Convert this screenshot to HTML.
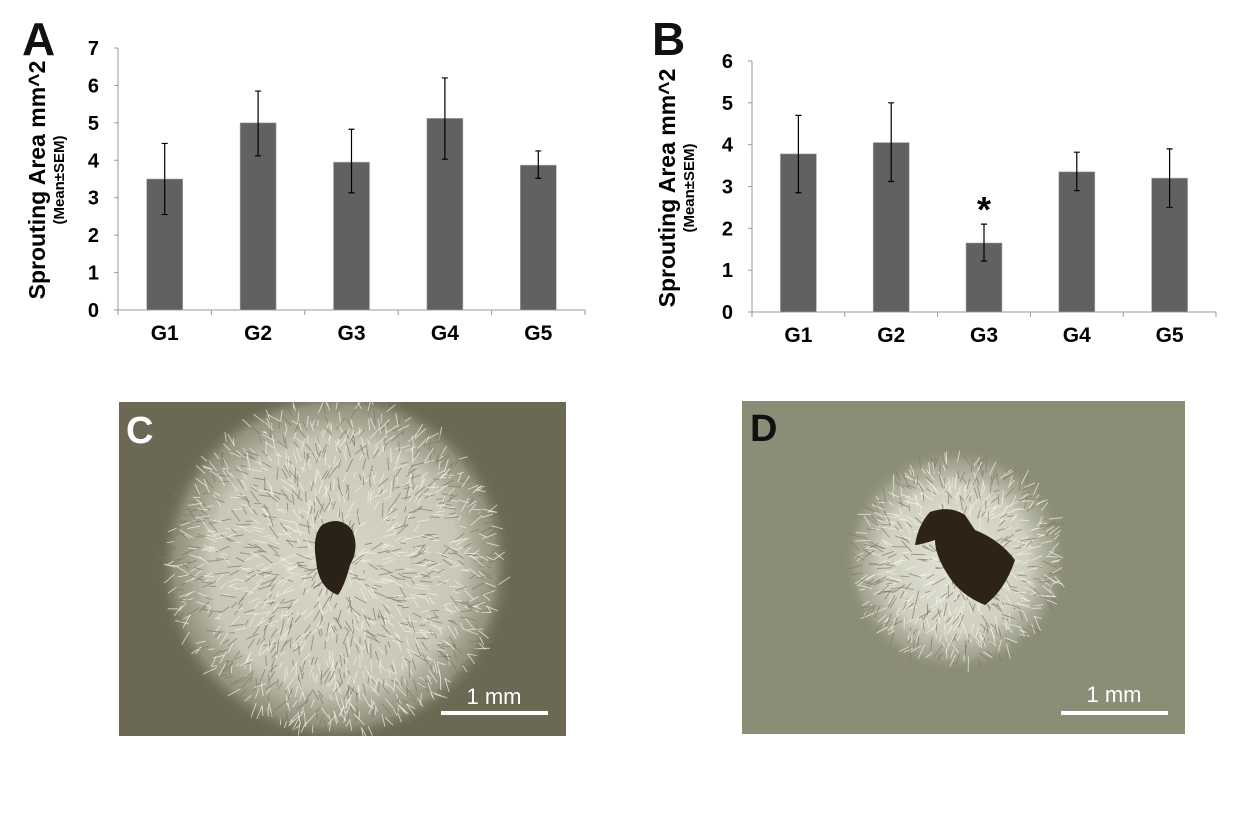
<!DOCTYPE html>
<html><head><meta charset="utf-8"><style>
body{margin:0;background:#fff;width:1240px;height:827px;overflow:hidden;font-family:"Liberation Sans",Arial,sans-serif}
svg{display:block}
</style></head><body>
<svg id="fig" width="1240" height="827" viewBox="0 0 1240 827">
<defs>
<radialGradient id="haloC" cx="50%" cy="50%" r="50%"><stop offset="0" stop-color="#d9d7c8"/><stop offset="0.7" stop-color="#c9c7b6"/><stop offset="0.9" stop-color="#a5a38f" stop-opacity="0.7"/><stop offset="1" stop-color="#6e6a55" stop-opacity="0"/></radialGradient>
<radialGradient id="haloD" cx="50%" cy="50%" r="50%"><stop offset="0" stop-color="#e2e2d6"/><stop offset="0.65" stop-color="#d0d0c0"/><stop offset="0.88" stop-color="#b0b19d" stop-opacity="0.6"/><stop offset="1" stop-color="#8f907b" stop-opacity="0"/></radialGradient>
<clipPath id="clipC"><rect x="119" y="402" width="447" height="334"/></clipPath>
<clipPath id="clipD"><rect x="742" y="401" width="443" height="333"/></clipPath>
</defs>
<g id="chartA"></g>
<g id="chartB"></g>
<g clip-path="url(#clipC)">
<rect x="119" y="402" width="447" height="334" fill="#6b6853"/>
<ellipse cx="335" cy="565" rx="178" ry="178" fill="url(#haloC)"/>
<g id="fibC"></g>
<path d="M322 525 Q340 515 352 530 Q360 548 350 565 Q345 585 338 595 Q318 588 316 560 Q312 535 322 525Z" fill="#2a2216"/>
</g>
<text x="126" y="443" font-size="38" font-weight="bold" fill="#fff">C</text>
<rect x="441" y="711" width="107" height="4" fill="#fff"/>
<text x="494" y="704" text-anchor="middle" font-size="22" fill="#fff">1 mm</text>
<g clip-path="url(#clipD)">
<rect x="742" y="401" width="443" height="333" fill="#8b8d77"/>
<ellipse cx="955" cy="560" rx="112" ry="112" fill="url(#haloD)"/>
<g id="fibD"></g>
<path d="M930 512 Q950 505 965 515 L975 530 Q1000 540 1015 560 Q1005 590 985 605 Q960 595 948 575 Q935 555 935 540 Q920 545 915 545 Q918 525 930 512Z" fill="#2d2416"/>
</g>
<text x="750" y="441" font-size="38" font-weight="bold" fill="#111">D</text>
<rect x="1061" y="711" width="107" height="4" fill="#fff"/>
<text x="1114" y="702" text-anchor="middle" font-size="22" fill="#fff">1 mm</text>
</svg>
<script>
const categories=["G1","G2","G3","G4","G5"];
const meansA=[3.5,5.0,3.95,5.12,3.87];
const errLoA=[2.55,4.12,3.13,4.03,3.52];
const errHiA=[4.45,5.85,4.83,6.2,4.25];
const ticksA=[0,1,2,3,4,5,6,7];
const meansB=[3.78,4.05,1.65,3.35,3.2];
const errLoB=[2.85,3.12,1.22,2.9,2.5];
const errHiB=[4.7,5.0,2.1,3.82,3.9];
const ticksB=[0,1,2,3,4,5,6];
const NS="http://www.w3.org/2000/svg";
function mk(p,t,a){const e=document.createElementNS(NS,t);for(const k in a)e.setAttribute(k,a[k]);p.appendChild(e);return e;}
function chart(g,o){
  const y=v=>o.y0-(v/o.max)*(o.y0-o.yTop);
  const bw=(o.x1-o.x0)/categories.length;
  const x=i=>o.x0+bw*(i+0.5);
  let l=mk(g,'line',{x1:o.x0,y1:o.yTop,x2:o.x0,y2:o.y0,stroke:'#999','stroke-width':1});
  
  
  l=mk(g,'line',{x1:o.x0,y1:o.y0,x2:o.x1,y2:o.y0,stroke:'#999','stroke-width':1});
  
  
  o.ticks.forEach(v=>{
    mk(g,'line',{x1:o.x0-4,y1:y(v),x2:o.x0,y2:y(v),stroke:'#999'});
    const t=mk(g,'text',{x:o.x0-19,y:y(v)+7,'text-anchor':'end','font-size':20,'font-weight':'bold',fill:'#000'});
    t.textContent=v;
    
    
  });
  for(let i=0;i<=categories.length;i++)mk(g,'line',{x1:o.x0+bw*i,y1:o.y0,x2:o.x0+bw*i,y2:o.y0+5,stroke:'#999'});
  categories.forEach((c,i)=>{
    const r=mk(g,'rect',{x:x(i)-18,y:y(o.m[i]),width:36,height:o.y0-y(o.m[i]),fill:'#616161',stroke:'#aaa','stroke-width':0.6});
    
    
    const e=mk(g,'path',{d:`M${x(i)} ${y(o.lo[i])}V${y(o.hi[i])}M${x(i)-3} ${y(o.lo[i])}h6M${x(i)-3} ${y(o.hi[i])}h6`,stroke:'#000','stroke-width':1.2,fill:'none'});
    
    
    const t=mk(g,'text',{x:x(i),y:o.y0+30,'text-anchor':'middle','font-size':21,'font-weight':'bold',fill:'#000'});
    t.textContent=c;
    
    
  });
  let t=mk(g,'text',{x:o.lx,y:o.ly,'font-size':46,'font-weight':'bold',fill:'#111'});t.textContent=o.letter;
  
  
  t=mk(g,'text',{transform:`translate(${o.tx},${o.tc}) rotate(-90)`,'text-anchor':'middle','font-size':23,'font-weight':'bold',fill:'#000'});t.textContent='Sprouting Area mm^2';
  
  
  t=mk(g,'text',{transform:`translate(${o.tx+19},${o.tc}) rotate(-90)`,'text-anchor':'middle','font-size':15,'font-weight':'bold',fill:'#000'});t.textContent='(Mean±SEM)';
  
  
  return {x,y};
}
chart(document.getElementById('chartA'),{x0:118,x1:585,y0:310,yTop:48,max:7,ticks:ticksA,m:meansA,lo:errLoA,hi:errHiA,letter:'A',lx:22,ly:55,tx:45,tc:180});
const pB=chart(document.getElementById('chartB'),{x0:752,x1:1216,y0:312,yTop:61,max:6,ticks:ticksB,m:meansB,lo:errLoB,hi:errHiB,letter:'B',lx:652,ly:55,tx:675,tc:188});
const ast=mk(document.getElementById('chartB'),'text',{x:pB.x(2),y:pB.y(errHiB[2])-2,'text-anchor':'middle','font-size':36,'font-weight':'bold',fill:'#000'});
ast.textContent='*';


// decorative fiber texture
let s=7;function rnd(){s=(s*9301+49297)%233280;return s/233280;}
function fibers(id,cx,cy,R,n){const g=document.getElementById(id);
  for(let k=0;k<n;k++){const a=rnd()*6.283,r=R*Math.sqrt(rnd());const px=cx+r*Math.cos(a),py=cy+r*Math.sin(a);const b=a+(rnd()-0.5)*1.5,L=6+rnd()*10;
    mk(g,'line',{x1:px,y1:py,x2:px+L*Math.cos(b),y2:py+L*Math.sin(b),stroke:rnd()<0.55?'#f4f3ea':'#7d7b67','stroke-width':0.9,'stroke-opacity':0.75});}}
fibers('fibC',335,565,165,1600);
fibers('fibD',958,560,100,700);
</script>
</body></html>
